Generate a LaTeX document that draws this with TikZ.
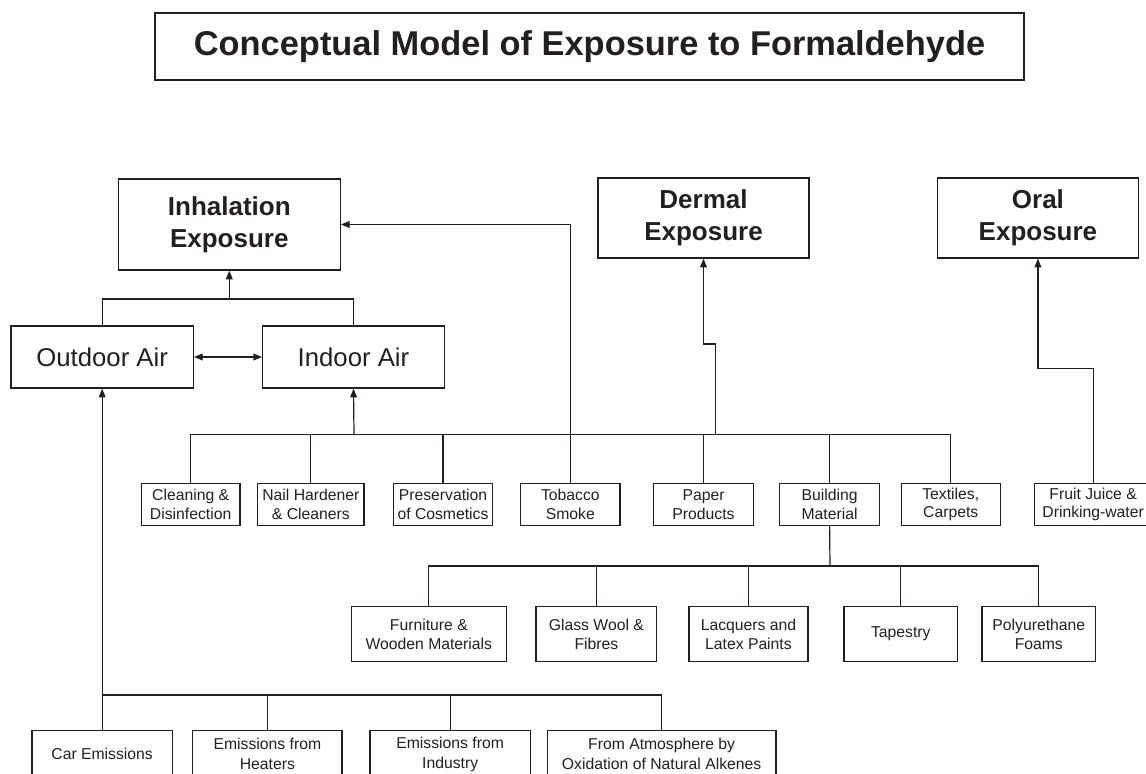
\documentclass[tikz,border=0pt]{standalone}
\usepackage{fontspec}
\setmainfont{Liberation Sans}
\usetikzlibrary{arrows.meta}
\definecolor{ink}{RGB}{35,31,32}
\newcommand\boxnode[7]{%
  \node[#6, minimum width={(#4-#2)*0.75pt}, minimum height={(#5-#3)*0.75pt}] (#1) at ({(#2+#4)/2},{(#3+#5)/2}) {#7};}
\tikzset{
  base/.style={draw=ink, line width=0.95pt, text=ink, inner sep=0pt, align=center},
  titlebox/.style={base, font=\fontsize{25.8}{30}\selectfont\bfseries},
  expbox/.style={base, font=\fontsize{19.5}{23.8}\selectfont\bfseries},
  airbox/.style={base, font=\fontsize{19.3}{23}\selectfont},
  srcbox/.style={base, font=\fontsize{11.8}{14}\selectfont},
  subbox/.style={base, font=\fontsize{11.8}{13.8}\selectfont},
  botbox/.style={base, font=\fontsize{11.8}{15}\selectfont},
  conn/.style={draw=ink, line width=0.9pt},
  arr/.style={conn, -{Triangle[length=6.5pt,width=5pt]}},
  arrtwo/.style={conn, {Triangle[length=6.5pt,width=5pt]}-{Triangle[length=6.5pt,width=5pt]}}
}
\begin{document}
\begin{tikzpicture}[x=0.75pt,y=-0.75pt]
\useasboundingbox (0,0) rectangle (1146,774);
% boxes
\boxnode{title}{155}{13}{1024}{80}{titlebox}{Conceptual Model of Exposure to Formaldehyde}
\boxnode{inh}{118.3}{179}{340.3}{270}{expbox}{Inhalation\\Exposure}
\boxnode{derm}{598}{178}{809}{258}{expbox}{Dermal\\Exposure}
\boxnode{oral}{937.4}{178}{1138.5}{258}{expbox}{Oral\\Exposure}
\boxnode{out}{11}{326}{193.3}{388}{airbox}{Outdoor Air}
\boxnode{in}{262.7}{326}{444.3}{388}{airbox}{Indoor Air}
% middle row
\boxnode{clean}{141.3}{483.5}{240}{525.5}{srcbox}{Cleaning \&\\Disinfection}
\boxnode{nail}{257.7}{483.5}{364}{525.5}{srcbox}{Nail Hardener\\\& Cleaners}
\boxnode{pres}{393.3}{483.5}{492.7}{525.5}{srcbox}{Preservation\\of Cosmetics}
\boxnode{tob}{520.7}{483.5}{620}{525.5}{srcbox}{Tobacco\\Smoke}
\boxnode{paper}{653.4}{483.5}{753.6}{525.5}{srcbox}{Paper\\Products}
\boxnode{build}{779.7}{483.5}{879.5}{525.5}{srcbox}{Building\\Material}
\boxnode{tex}{901.2}{483.5}{1000.2}{525.5}{srcbox}{Textiles,\\Carpets}
\boxnode{fruit}{1034.3}{483.5}{1152}{525.5}{srcbox}{Fruit Juice \&\\Drinking-water}
% third row
\boxnode{furn}{351.5}{606.7}{506.2}{661.7}{subbox}{Furniture \&\\Wooden Materials}
\boxnode{glass}{536}{606.7}{656.8}{661.7}{subbox}{Glass Wool \&\\Fibres}
\boxnode{lacq}{689}{606.7}{807.9}{661.7}{subbox}{Lacquers and\\Latex Paints}
\boxnode{tap}{844.1}{606.7}{957.5}{661.7}{subbox}{Tapestry}
\boxnode{poly}{981.9}{606.7}{1095.7}{661.7}{subbox}{Polyurethane\\Foams}
% bottom row
\boxnode{car}{32.1}{730.7}{172.2}{778}{botbox}{Car Emissions}
\boxnode{heat}{192.8}{730.7}{342}{778}{botbox}{Emissions from\\Heaters}
\boxnode{ind}{370}{730.7}{530.3}{778}{botbox}{Emissions from\\Industry}
\boxnode{atm}{547.3}{730.7}{776}{778}{botbox}{From Atmosphere by\\Oxidation of Natural Alkenes}
% bus coordinates
\coordinate (jA) at (229.3,299);
\coordinate (busA) at (354,434.5);
\coordinate (dj) at (715.5,434.5);
\coordinate (busB) at (830,566);
\coordinate (busC) at (102,695);
% inhalation junction
\draw[conn] (out.north) |- (jA) -| (in.north);
\draw[arr] (jA) -- (inh.south);
\draw[arrtwo] (out.east) -- (in.west);
% indoor bus
\draw[conn] (clean.north) |- (busA) -| (tex.north);
\draw[conn] (nail.north) -- (nail.north |- busA);
\draw[conn] (pres.north) -- (pres.north |- busA);
\draw[conn] (paper.north) -- (paper.north |- busA);
\draw[conn] (build.north) -- (build.north |- busA);
\draw[arr] (busA) -- (in.south);
\draw[arr] (tob.north) |- (inh.east);
% dermal
\draw[arr] (dj) |- (derm.south |- 0,344) -- (derm.south);
% oral
\draw[arr] (fruit.north) |- (oral.south |- 0,368.3) -- (oral.south);
% building materials
\draw[conn] (build.south) -- (busB);
\draw[conn] (furn.north) |- (busB) -| (poly.north);
\draw[conn] (glass.north) -- (glass.north |- busB);
\draw[conn] (lacq.north) -- (lacq.north |- busB);
\draw[conn] (tap.north) -- (tap.north |- busB);
% outdoor sources
\draw[arr] (car.north) -- (out.south);
\draw[conn] (busC) -| (atm.north);
\draw[conn] (heat.north) -- (heat.north |- busC);
\draw[conn] (ind.north) -- (ind.north |- busC);
\end{tikzpicture}
\end{document}
